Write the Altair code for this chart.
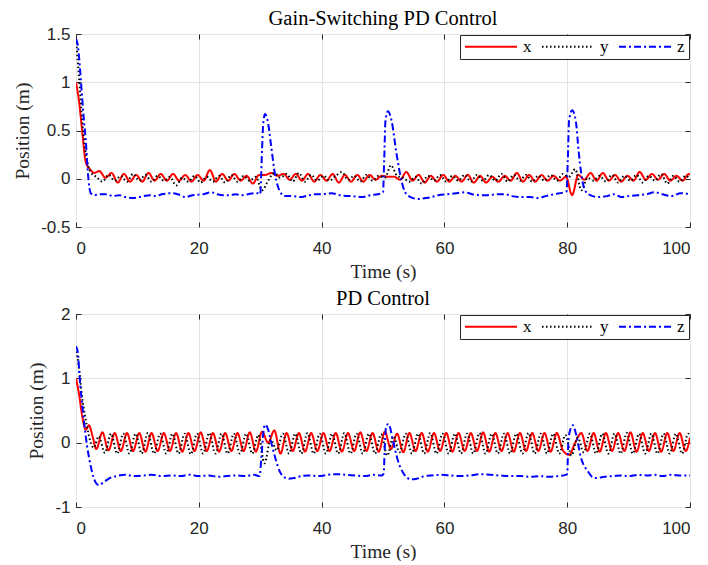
import altair as alt
import pandas as pd

SERIES = ["x", "y", "z"]
COLORS = ["#FF0000", "#000000", "#0000FF"]
DASHES = [[1, 0], [1.5, 2.5], [7, 3, 2, 3]]
X_TICKS = [0, 20, 40, 60, 80, 100]
TOP_Y_TICKS = [-0.5, 0, 0.5, 1, 1.5]
BOT_Y_TICKS = [-1, 0, 1, 2]

# ---------------- Gain-Switching PD Control (top) ----------------
GS_X_HEAD_T = [0, 0.5, 1.0, 1.6, 2.4, 3.0]
GS_X_HEAD_V = [1.0, 0.8, 0.5, 0.17, 0.09, 0.06]
GS_X_OSC_START = 3.8
GS_X_OSC_V = [
    0.08, 0.01, 0.06, -0.04, 0.05, -0.03, 0.04, -0.03, 0.06, -0.02,
    0.05, -0.02, 0.05, -0.02, 0.04, -0.03, 0.04, -0.02, 0.09, -0.03,
    0.05, -0.02, 0.05, -0.02, 0.03, -0.05, 0.04, 0.04, 0.06, 0.03,
    0.05, -0.01, 0.05, -0.02, 0.05, -0.03, 0.04, -0.02, 0.05, -0.04,
    0.04, -0.03, 0.04, -0.03, 0.04, -0.01, 0.03, 0.02, 0.02, -0.01,
    0.07, -0.02, 0.04, -0.04, 0.03, -0.03, 0.04, -0.03, 0.03, -0.03,
    0.04, -0.04, 0.03, -0.04, 0.02, -0.03, 0.03, -0.02, 0.06, -0.03,
    0.04, -0.03, 0.04, -0.02, 0.03, -0.02, 0.02, -0.17, 0.04, -0.01,
    0.06, -0.02, 0.06, -0.02, 0.04, -0.03, 0.03, -0.02, 0.07, -0.01,
    0.05, -0.01, 0.05, -0.02, 0.03, -0.02, 0.05,
]
GS_X_TAIL_T = [100]
GS_X_TAIL_V = [0.04]

GS_Y_HEAD_T = [0, 0.5, 1.0, 1.5, 2.0, 2.6, 3.3]
GS_Y_HEAD_V = [1.45, 1.05, 0.6, 0.3, 0.13, 0.05, 0.02]
GS_Y_OSC_START = 4.3
GS_Y_OSC_V = [
    -0.03, 0.04, -0.02, 0.03, -0.03, 0.05, -0.02, 0.04, -0.03, 0.03,
    -0.02, 0.02, -0.07, 0.01, -0.03, 0.03, -0.04, 0.02, -0.03, 0.03,
    -0.04, 0.04, -0.03, 0.03, -0.02, 0.02, -0.12, -0.02, 0.06, 0.01,
    0.05, -0.03, 0.06, -0.03, 0.04, -0.02, 0.03, -0.02, 0.03, 0.07,
    -0.01, 0.03, -0.03, 0.04, -0.02, 0.03, 0.01, 0.14, 0.03, 0.01,
    -0.03, 0.02, -0.05, 0.03, -0.02, 0.04, -0.03, 0.03, -0.02, 0.04,
    -0.03, 0.04, -0.02, 0.04, -0.02, 0.05, -0.03, 0.04, -0.02, 0.04,
    -0.03, 0.03, -0.02, 0.04, -0.02, 0.05, 0.02, 0.1, -0.12, 0.01,
    -0.02, 0.03, -0.03, 0.04, -0.04, 0.03, -0.02, 0.04, -0.04, 0.03,
    -0.02, 0.05, -0.05, 0.03, -0.03, 0.03,
]
GS_Y_TAIL_T = [100]
GS_Y_TAIL_V = [0.0]

GS_Z_T = [
    0, 0.3, 0.7, 1.0, 1.3, 1.6, 1.95, 2.4, 3.0, 4, 5, 6, 7, 8, 9.4, 11, 12, 13,
    14, 15.6, 17, 17.8, 19, 20.8, 22, 23, 24, 25, 26, 27, 28, 29, 29.6, 30.0,
    30.3, 30.5, 30.8, 31.3, 31.8, 32.4, 33.2, 34.0, 35, 36.7, 38, 39, 40, 41.6,
    43, 44.3, 45, 46.5, 48, 49.2, 50.0, 50.2, 50.4, 50.8, 51.4, 52.2, 53.0,
    53.6, 54.5, 55.7, 57, 57.9, 59, 60.6, 62, 63.3, 64.5, 66, 67, 68.7, 69.8,
    71, 72.5, 74, 75.2, 76.5, 77.9, 79.5, 79.9, 80.1, 80.3, 80.8, 81.4, 81.9,
    82.6, 83.4, 85, 86.5, 87.7, 88.8, 90, 91.5, 93, 94.2, 95.5, 96.9, 98.5, 100,
]
GS_Z_V = [
    1.45, 1.38, 1.1, 0.84, 0.6, 0.39, 0.05, -0.15, -0.17, -0.16, -0.16, -0.18,
    -0.17, -0.19, -0.2, -0.18, -0.17, -0.18, -0.16, -0.15, -0.17, -0.19, -0.17,
    -0.16, -0.14, -0.16, -0.17, -0.17, -0.16, -0.17, -0.16, -0.15, -0.15, -0.16,
    0.3, 0.58, 0.67, 0.57, 0.33, 0.05, -0.13, -0.18, -0.18, -0.19, -0.17,
    -0.16, -0.16, -0.15, -0.17, -0.18, -0.18, -0.19, -0.17, -0.16, -0.14, 0.2,
    0.6, 0.7, 0.6, 0.26, -0.02, -0.14, -0.19, -0.21, -0.2, -0.19, -0.17,
    -0.16, -0.15, -0.14, -0.16, -0.17, -0.17, -0.16, -0.16, -0.18, -0.19,
    -0.19, -0.2, -0.18, -0.16, -0.14, -0.13, 0.2, 0.6, 0.71, 0.6, 0.26,
    -0.06, -0.16, -0.19, -0.18, -0.16, -0.19, -0.18, -0.17, -0.16, -0.14,
    -0.16, -0.18, -0.15, -0.16,
]

# ---------------- PD Control (bottom) ----------------
PD_X_HEAD_T = [0, 0.5, 1.0, 1.6, 2.1, 2.7, 3.3]
PD_X_HEAD_V = [1.0, 0.75, 0.42, 0.2, 0.27, 0.1, -0.1]
PD_X_OSC_START = 4.3
PD_X_OSC_V = [
    0.16, -0.12, 0.15, -0.13, 0.15, -0.13, 0.15, -0.14, 0.15, -0.13,
    0.15, -0.13, 0.15, -0.14, 0.15, -0.13, 0.16, -0.13, 0.15, -0.14,
    0.15, -0.13, 0.15, -0.13, 0.16, -0.14, 0.17, 0.0, 0.19, -0.17,
    0.15, -0.13, 0.15, -0.14, 0.15, -0.13, 0.15, -0.13, 0.15, -0.14,
    0.15, -0.13, 0.16, -0.13, 0.15, -0.14, 0.17, -0.1, 0.14, -0.15,
    0.15, -0.13, 0.15, -0.14, 0.15, -0.13, 0.15, -0.14, 0.15, -0.13,
    0.15, -0.13, 0.16, -0.14, 0.15, -0.13, 0.15, -0.14, 0.15, -0.13,
    0.15, -0.13, 0.15, -0.14, 0.15, -0.12, -0.19, 0.0, 0.15, -0.13,
    0.15, -0.14, 0.15, -0.13, 0.15, -0.13, 0.16, -0.14, 0.15, -0.13,
    0.15, -0.14, 0.15, -0.13, 0.15, -0.13,
]
PD_X_TAIL_T = [100]
PD_X_TAIL_V = [0.08]

PD_Y_HEAD_T = [0, 0.5, 1.0, 1.5, 2.0, 2.9, 3.7]
PD_Y_HEAD_V = [1.48, 1.15, 0.7, 0.4, 0.15, -0.08, 0.1]
PD_Y_OSC_START = 4.7
PD_Y_OSC_V = [
    -0.16, 0.14, -0.17, 0.14, -0.17, 0.14, -0.17, 0.15, -0.17, 0.14,
    -0.17, 0.14, -0.17, 0.14, -0.18, 0.14, -0.17, 0.15, -0.17, 0.14,
    -0.17, 0.14, -0.17, 0.14, -0.17, 0.12, -0.32, 0.05, -0.12, 0.14,
    -0.17, 0.14, -0.17, 0.15, -0.17, 0.14, -0.17, 0.14, -0.17, 0.15,
    -0.17, 0.14, -0.17, 0.14, -0.17, 0.13, -0.2, 0.1, -0.15, 0.14,
    -0.17, 0.14, -0.17, 0.15, -0.17, 0.14, -0.17, 0.14, -0.17, 0.14,
    -0.17, 0.15, -0.17, 0.14, -0.17, 0.14, -0.17, 0.14, -0.17, 0.15,
    -0.17, 0.14, -0.17, 0.14, -0.17, 0.12, -0.2, 0.08, -0.15, 0.14,
    -0.17, 0.14, -0.17, 0.14, -0.17, 0.15, -0.17, 0.14, -0.17, 0.14,
    -0.17, 0.14, -0.17, 0.14, -0.17, 0.14,
]
PD_Y_TAIL_T = [100]
PD_Y_TAIL_V = [0.1]

PD_Z_T = [
    0, 0.3, 0.6, 1.0, 1.4, 1.8, 2.2, 2.6, 3.0, 3.7, 4.7, 5.5, 6.6, 8, 9.6, 11,
    12.3, 14, 15.5, 17, 18.5, 20, 21.7, 23, 24.5, 26, 27.5, 29, 29.9, 30.2,
    30.5, 30.8, 31.3, 31.8, 32.4, 33.2, 33.8, 34.6, 35.5, 36.7, 38, 39.5, 41,
    42.5, 44, 45.5, 47, 48.5, 49.8, 50.1, 50.3, 50.5, 50.9, 51.6, 52.4, 53.5,
    54.6, 55.5, 56.8, 58, 59.5, 61, 62.5, 64, 66, 67.5, 69, 70.5, 72.5, 74,
    75.5, 77, 78.5, 79.8, 80.0, 80.2, 80.5, 80.9, 81.4, 82.2, 83.4, 84.4,
    85.5, 86.1, 87.5, 88.8, 90, 91.5, 93, 94.2, 95.5, 97, 98.5, 100,
]
PD_Z_V = [
    1.5, 1.4, 1.0, 0.6, 0.25, -0.05, -0.27, -0.45, -0.58, -0.66, -0.6, -0.55,
    -0.52, -0.5, -0.52, -0.51, -0.5, -0.52, -0.51, -0.52, -0.5, -0.52, -0.51,
    -0.53, -0.52, -0.51, -0.52, -0.5, -0.52, -0.22, 0.15, 0.28, 0.2, 0.0,
    -0.22, -0.45, -0.53, -0.56, -0.55, -0.52, -0.51, -0.52, -0.5, -0.49,
    -0.5, -0.51, -0.52, -0.5, -0.51, -0.48, -0.05, 0.25, 0.29, 0.04, -0.27,
    -0.5, -0.57, -0.56, -0.52, -0.51, -0.5, -0.51, -0.52, -0.51, -0.49, -0.5,
    -0.51, -0.52, -0.52, -0.53, -0.52, -0.53, -0.52, -0.5, -0.48, 0.04, 0.2,
    0.27, 0.15, -0.22, -0.45, -0.55, -0.54, -0.53, -0.52, -0.51, -0.52, -0.5,
    -0.51, -0.5, -0.52, -0.5, -0.51, -0.51,
]


def assemble(head_t, head_v, osc_start, osc_v, tail_t, tail_v):
    times = list(head_t) + [round(osc_start + k, 2) for k in range(len(osc_v))] + list(tail_t)
    values = list(head_v) + list(osc_v) + list(tail_v)
    return times, values


def frame(parts):
    rows = []
    for name, (times, values) in parts:
        for t, v in zip(times, values):
            rows.append({"t": t, "v": v, "s": name})
    return pd.DataFrame(rows)


top_df = frame([
    ("x", assemble(GS_X_HEAD_T, GS_X_HEAD_V, GS_X_OSC_START, GS_X_OSC_V, GS_X_TAIL_T, GS_X_TAIL_V)),
    ("y", assemble(GS_Y_HEAD_T, GS_Y_HEAD_V, GS_Y_OSC_START, GS_Y_OSC_V, GS_Y_TAIL_T, GS_Y_TAIL_V)),
    ("z", (GS_Z_T, GS_Z_V)),
])
bot_df = frame([
    ("x", assemble(PD_X_HEAD_T, PD_X_HEAD_V, PD_X_OSC_START, PD_X_OSC_V, PD_X_TAIL_T, PD_X_TAIL_V)),
    ("y", assemble(PD_Y_HEAD_T, PD_Y_HEAD_V, PD_Y_OSC_START, PD_Y_OSC_V, PD_Y_TAIL_T, PD_Y_TAIL_V)),
    ("z", (PD_Z_T, PD_Z_V)),
])

TICK_LEN = 5
TICK_COLOR = "#262626"


def legend():
    return alt.Legend(
        title=None, orient="top-right", direction="horizontal",
        symbolType="stroke", symbolSize=2704, symbolStrokeWidth=2, clipHeight=15,
        labelFont="Liberation Serif", labelFontSize=17, labelColor="black",
        labelOffset=5, columnPadding=9, padding=4, offset=1,
        strokeColor="#262626", fillColor="white", cornerRadius=0,
    )


def panel(df, title, ydom, yticks):
    xscale = alt.Scale(domain=[0, 100], nice=False)
    yscale = alt.Scale(domain=ydom, nice=False, zero=False)
    lines = alt.Chart(df).mark_line(interpolate="monotone", strokeWidth=2, clip=True).encode(
        x=alt.X("t:Q", scale=xscale,
                axis=alt.Axis(values=X_TICKS, title="Time (s)", offset=-TICK_LEN,
                              ticks=True, tickSize=TICK_LEN, tickColor=TICK_COLOR)),
        y=alt.Y("v:Q", scale=yscale,
                axis=alt.Axis(values=yticks, title="Position (m)", labelExpr="'' + datum.value",
                              offset=-TICK_LEN, ticks=True, tickSize=TICK_LEN, tickColor=TICK_COLOR)),
        color=alt.Color("s:N", scale=alt.Scale(domain=SERIES, range=COLORS), legend=legend()),
        strokeDash=alt.StrokeDash("s:N", scale=alt.Scale(domain=SERIES, range=DASHES), legend=legend()),
    )
    mirror = alt.Chart(df).mark_point(opacity=0).encode(
        x=alt.X("t:Q", scale=xscale,
                axis=alt.Axis(values=X_TICKS, orient="top", labels=False, title=None, grid=False,
                              offset=-TICK_LEN, ticks=True, tickSize=TICK_LEN, tickColor=TICK_COLOR)),
        y=alt.Y("v:Q", scale=yscale,
                axis=alt.Axis(values=yticks, orient="right", labels=False, title=None, grid=False,
                              offset=-TICK_LEN, ticks=True, tickSize=TICK_LEN, tickColor=TICK_COLOR)),
    )
    return alt.layer(lines, mirror).resolve_axis(x="independent", y="independent").properties(
        width=614, height=193, title=title
    )


top = panel(top_df, "Gain-Switching PD Control", [-0.5, 1.5], TOP_Y_TICKS)
bot = panel(bot_df, "PD Control", [-1, 2], BOT_Y_TICKS)

chart = alt.vconcat(top, bot, spacing=7).resolve_scale(
    color="independent", strokeDash="independent"
).properties(
    padding={"left": 12, "top": 8, "right": 0, "bottom": 0}
).configure_axis(
    labelFont="Liberation Sans", labelFontSize=17, labelColor="#262626",
    titleFont="Liberation Serif", titleFontSize=19.5, titleFontWeight="normal", titleColor="#262626",
    gridColor="#E3E3E3", gridWidth=1, domain=False, ticks=False,
).configure_axisX(labelPadding=13, titlePadding=6).configure_axisY(
    labelPadding=6, titlePadding=8
).configure_title(
    font="Liberation Serif", fontSize=20.5, fontWeight="normal", color="black", offset=-4
).configure_view(stroke="#262626", strokeWidth=1)

chart.save("out.html", embed_options={"renderer": "svg", "actions": False})
